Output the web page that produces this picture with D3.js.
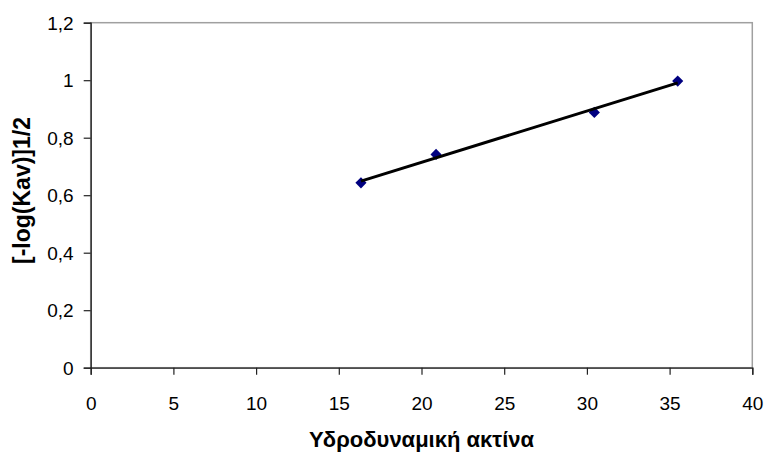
<!DOCTYPE html>
<html><head><meta charset="utf-8">
<script src="https://cdn.jsdelivr.net/npm/d3@7/dist/d3.min.js"></script>
<style>body{margin:0;background:#fff}svg{display:block}</style>
</head><body><svg id="c" width="766" height="458"></svg>
<script>
const xValues = [16.34, 20.88, 30.45, 35.49];
const yValues = [0.643, 0.742, 0.888, 0.997];
const xTicks = [0, 5, 10, 15, 20, 25, 30, 35, 40];
const yTicks = [0, 0.2, 0.4, 0.6, 0.8, 1, 1.2];
const xTitle = "Υδροδυναμική ακτίνα";
const yTitle = "[-log(Kav)]1/2";

const svg = d3.select("#c");
const L = 90.7, R = 752.3, T = 22.7, B = 367.7;
const x = d3.scaleLinear().domain([0, 40]).range([L, R]);
const y = d3.scaleLinear().domain([0, 1.2]).range([B, T]);
const font = "'Liberation Sans', Arial, sans-serif";
const fmt = d => String(d).replace(".", ",");

// frame (top/right gray)
svg.append("rect").attr("x", L).attr("y", T).attr("width", R - L).attr("height", B - T)
  .attr("fill", "none").attr("stroke", "#a0a0a0").attr("stroke-width", 1.5);

const xAxis = svg.append("g").attr("transform", `translate(0,${B})`)
  .call(d3.axisBottom(x).tickValues(xTicks).tickSize(7).tickPadding(22).tickFormat(fmt));
const yAxis = svg.append("g").attr("transform", `translate(${L},0)`)
  .call(d3.axisLeft(y).tickValues(yTicks).tickSize(7).tickPadding(10).tickFormat(fmt));
[xAxis, yAxis].forEach(g => {
  g.select(".domain").attr("stroke", "#222").attr("stroke-width", 1.3);
  g.selectAll(".tick line").attr("stroke", "#222").attr("stroke-width", 1.2);
  g.selectAll("text").attr("font-family", font).attr("font-size", 19).attr("fill", "#000");
});
yAxis.selectAll("text").attr("dy", "0.35em");

// markers
const pts = xValues.map((v, i) => [v, yValues[i]]);
svg.append("g").selectAll("path").data(pts).join("path")
  .attr("d", d3.symbol(d3.symbolSquare, 62)())
  .attr("transform", d => `translate(${x(d[0])},${y(d[1])}) rotate(45)`)
  .attr("fill", "#000080");

// linear trendline (least squares from data)
const mx = d3.mean(xValues), my = d3.mean(yValues);
const sxy = d3.sum(xValues, (v, i) => (v - mx) * (yValues[i] - my));
const sxx = d3.sum(xValues, v => (v - mx) ** 2);
const slope = sxy / sxx, icpt = my - slope * mx;
const xr = d3.extent(xValues);
svg.append("path")
  .attr("d", d3.line().x(d => x(d)).y(d => y(icpt + slope * d))(xr))
  .attr("stroke", "#000").attr("stroke-width", 3).attr("fill", "none");

// titles
svg.append("text").attr("x", (L + R) / 2).attr("y", 447).attr("text-anchor", "middle")
  .attr("font-family", font).attr("font-size", 22).attr("font-weight", "bold").text(xTitle);
svg.append("text").attr("transform", `translate(29.5,190.5) rotate(-90)`).attr("text-anchor", "middle")
  .attr("font-family", font).attr("font-size", 23).attr("font-weight", "bold").text(yTitle);
</script></body></html>
